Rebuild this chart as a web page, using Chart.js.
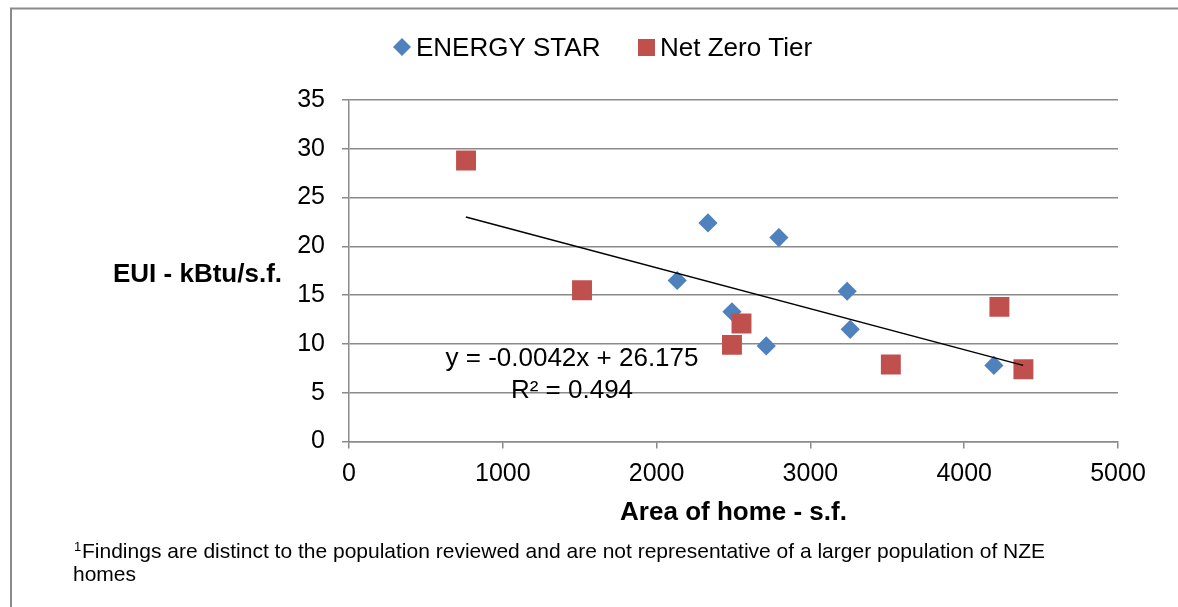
<!DOCTYPE html>
<html>
<head>
<meta charset="utf-8">
<title>EUI vs Area of home</title>
<script src="https://cdn.jsdelivr.net/npm/chart.js@4.4.0/dist/chart.umd.min.js"></script>
<style>
    html, body { margin: 0; padding: 0; background: #fff; }
    #wrap { width: 1178px; height: 607px; }
</style>
</head>
<body>
<div id="wrap"><canvas id="myChart" width="1178" height="607"></canvas></div>
<script>
// data
const energyStarArea = [2134, 2334, 2490, 2713, 2795, 3239, 3259, 4193];
const energyStarEui = [16.5, 22.4, 13.3, 9.8, 20.9, 15.4, 11.5, 7.8];
const netZeroArea = [761, 1515, 2490, 2552, 3523, 4229, 4385];
const netZeroEui = [28.8, 15.5, 9.9, 12.1, 7.9, 13.8, 7.4];
// trendline ends, as drawn
const trendArea = [760, 4383];
const trendEui = [23.0, 7.8];
const xTicks = [0, 1000, 2000, 3000, 4000, 5000];
const yTicks = [0, 5, 10, 15, 20, 25, 30, 35];

const seriesNames = ['ENERGY STAR', 'Net Zero Tier'];
const equationText = 'y = -0.0042x + 26.175';
const r2Text = 'R² = 0.494';
const footnote = 'Findings are distinct to the population reviewed and are not representative of a larger population of NZE';
const footnote2 = 'homes';

const FONT = "'Liberation Sans', Arial, sans-serif";
const BLUE = '#4F81BD';
const RED = '#C0504D';
const GRID = '#8a8a8a';

function toPoints(xs, ys) {
    return xs.map((x, i) => ({ x: x, y: ys[i] }));
}

// frame, legend, y title, equation and footnote
const decor = {
    id: 'decor',
    afterDraw(chart) {
        const ctx = chart.ctx;
        ctx.save();

        ctx.strokeStyle = GRID;
        ctx.lineWidth = 2;
        ctx.beginPath();
        ctx.moveTo(11, 607);
        ctx.lineTo(11, 8.5);
        ctx.lineTo(1178, 8.5);
        ctx.stroke();

        // legend
        ctx.fillStyle = BLUE;
        ctx.beginPath();
        ctx.moveTo(402, 38); ctx.lineTo(411, 47); ctx.lineTo(402, 56); ctx.lineTo(393, 47);
        ctx.closePath();
        ctx.fill();
        ctx.fillStyle = RED;
        ctx.fillRect(638, 39, 17, 17);

        ctx.fillStyle = '#000';
        ctx.font = '26px ' + FONT;
        ctx.textBaseline = 'alphabetic';
        ctx.textAlign = 'left';
        ctx.fillText(seriesNames[0], 416, 56);
        ctx.fillText(seriesNames[1], 660, 56);

        // y axis title, horizontal
        ctx.font = 'bold 26px ' + FONT;
        ctx.fillText('EUI - kBtu/s.f.', 113, 282);

        // trendline label
        ctx.font = '26px ' + FONT;
        ctx.textAlign = 'center';
        ctx.fillText(equationText, 572, 366);
        ctx.fillText(r2Text, 572, 398);

        // footnote
        ctx.textAlign = 'left';
        ctx.font = '13px ' + FONT;
        ctx.fillText('1', 74, 551);
        ctx.font = '21px ' + FONT;
        ctx.fillText(footnote, 82, 558);
        ctx.fillText(footnote2, 73, 581);

        ctx.restore();
    },
};

const ctx = document.getElementById('myChart').getContext('2d');
const myChart = new Chart(ctx, {
    type: 'scatter',
    data: {
        datasets: [
            {
                label: 'trend',
                data: toPoints(trendArea, trendEui),
                showLine: true,
                borderColor: '#000',
                borderWidth: 1.5,
                pointRadius: 0,
                order: 0,
            },
            {
                label: seriesNames[0],
                data: toPoints(energyStarArea, energyStarEui),
                pointStyle: 'rectRot',
                pointRadius: 9.6,
                pointBorderWidth: 0,
                backgroundColor: BLUE,
                borderColor: BLUE,
                order: 2,
            },
            {
                label: seriesNames[1],
                data: toPoints(netZeroArea, netZeroEui),
                pointStyle: 'rect',
                pointRadius: 14.1,
                pointBorderWidth: 0,
                backgroundColor: RED,
                borderColor: RED,
                order: 1,
            },
        ],
    },
    options: {
        responsive: false,
        animation: false,
        devicePixelRatio: 1,
        layout: { padding: { left: 0, top: 100, right: 60, bottom: 0 } },
        plugins: {
            legend: { display: false },
            tooltip: { enabled: false },
        },
        scales: {
            x: {
                type: 'linear',
                min: 0,
                max: 5000,
                afterBuildTicks: (s) => { s.ticks = xTicks.map((v) => ({ value: v })); },
                afterFit: (s) => { s.height = 165.5; },
                grid: { drawOnChartArea: false, drawTicks: true, tickLength: 7, color: GRID, lineWidth: 1.5 },
                border: { display: true, color: GRID, width: 1.5 },
                ticks: {
                    color: '#000',
                    font: { family: FONT, size: 25 },
                    padding: 11,
                    maxRotation: 0,
                    callback: (v) => String(v),
                },
                title: {
                    display: true,
                    text: 'Area of home - s.f.',
                    color: '#000',
                    font: { family: FONT, size: 26, weight: 'bold' },
                    padding: { top: 0, bottom: 79 },
                },
            },
            y: {
                type: 'linear',
                min: 0,
                max: 35,
                afterBuildTicks: (s) => { s.ticks = yTicks.map((v) => ({ value: v })); },
                afterFit: (s) => { s.width = 349; },
                grid: { drawTicks: true, tickLength: 7, color: GRID, lineWidth: 1.5 },
                border: { display: true, color: GRID, width: 1.5 },
                ticks: { color: '#000', font: { family: FONT, size: 25 }, padding: 17, callback: (v) => String(v) },
            },
        },
    },
    plugins: [decor],
});
</script>
</body>
</html>
